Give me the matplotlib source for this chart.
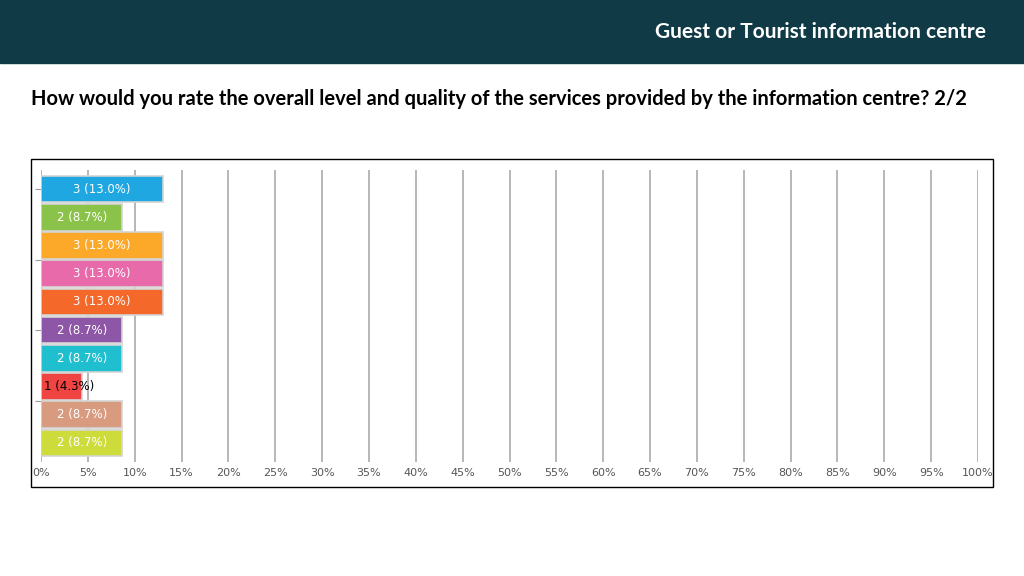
import matplotlib.pyplot as plt
from matplotlib.patches import Rectangle

# Datos
conteos = [3, 2, 3, 3, 3, 2, 2, 1, 2, 2]
total = 23
colores = ["#1ea7e1", "#8bc34a", "#fca828", "#e86aaa", "#f4682a",
           "#8e56a6", "#1fbfd0", "#ef4442", "#d99b80", "#cddc3a"]
ticks_x = list(range(0, 101, 5))

titulo_cabecera = "Guest or Tourist information centre"
pregunta = ("How would you rate the overall level and quality of the services "
            "provided by the information centre? 2/2")

porcentajes = [c / total * 100 for c in conteos]
posiciones = list(range(len(conteos)))

fig = plt.figure(figsize=(10.24, 5.76), dpi=100)

# Cabecera oscura
fig.patches.append(Rectangle((0, 1 - 63 / 576), 1, 63 / 576,
                             transform=fig.transFigure, color="#0f3a46",
                             zorder=0))
fig.text(986 / 1024, 1 - 32 / 576, titulo_cabecera, color="white",
         fontsize=15, fontweight="bold", family="Lato",
         ha="right", va="center")
fig.text(31 / 1024, 1 - 99 / 576, pregunta, color="black",
         fontsize=14.5, fontweight="bold", family="Lato",
         ha="left", va="center")

# Marco del gráfico
fig.patches.append(Rectangle((31 / 1024, 1 - 487 / 576), 962 / 1024,
                             328 / 576, transform=fig.transFigure,
                             fill=False, edgecolor="black", linewidth=1.0))

ax = fig.add_axes([41 / 1024, 1 - 462 / 576, 937 / 1024, 292 / 576])
ax.barh(posiciones, porcentajes, height=0.94, color=colores,
        edgecolor="#d4d4d4", linewidth=1.2, zorder=3)

for pos, c, p in zip(posiciones, conteos, porcentajes):
    etiqueta = f"{c} ({p:.1f}%)"
    if p < 6:
        ax.text(0.3, pos, etiqueta, ha="left", va="center",
                fontsize=8.5, color="black", zorder=4)
    else:
        ax.text(p / 2, pos, etiqueta, ha="center", va="center",
                fontsize=8.5, color="white", zorder=4)

ax.set_xlim(0, 100)
ax.set_ylim(9.68, -0.68)
ax.set_xticks(ticks_x)
ax.set_xticklabels([f"{t}%" for t in ticks_x], fontsize=8, color="#555555")
ax.set_yticks([0, 2.5, 5, 7.5])
ax.set_yticklabels([])
ax.tick_params(axis="x", length=0, pad=4)
ax.tick_params(axis="y", length=4, color="#999999")
ax.grid(True, axis="x", color="#aaaaaa", linewidth=1.2, zorder=0)
for lado in ax.spines.values():
    lado.set_visible(False)

fig.savefig("out.png", dpi=100)
plt.close()
